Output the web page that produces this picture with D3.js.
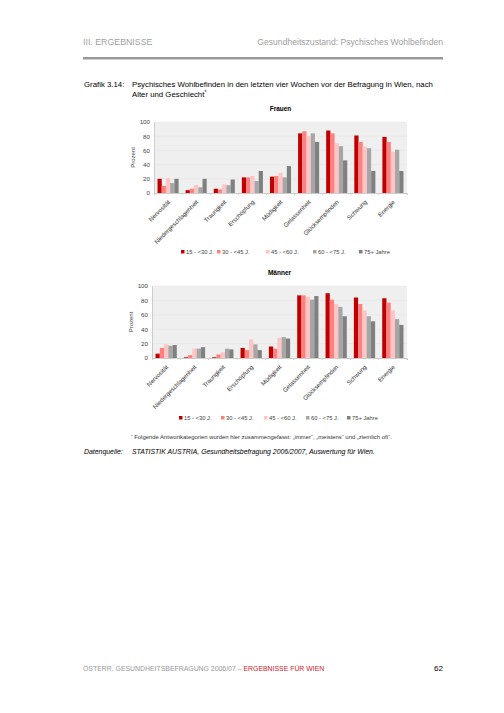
<!DOCTYPE html>
<html>
<head>
<meta charset="utf-8">
<script src="https://cdn.jsdelivr.net/npm/d3@7"></script>
<style>
  body { margin: 0; background: #fff; }
  svg { font-family: "Liberation Sans", Arial, sans-serif; }
</style>
</head>
<body>
<svg id="page" width="504" height="713"></svg>
<script>
var categories = ['Nervosität', 'Niedergeschlagenheit', 'Traurigkeit', 'Erschöpfung', 'Müdigkeit',
                  'Gelassenheit', 'Glücksempfinden', 'Schwung', 'Energie'];
var ageGroups = ['15 - <30 J.', '30 - <45 J.', '45 - <60 J.', '60 - <75 J.', '75+ Jahre'];
var ageColors = ['#c00000', '#ff8080', '#ffc4c4', '#a6a6a6', '#808080'];
var yTicks = [0, 20, 40, 60, 80, 100];

// one array per age group, values per category (Prozent)
var frauen = [
  [20, 4, 6, 22, 23, 84, 88, 81, 79],
  [10, 6, 5, 22, 24, 87, 84, 72, 72],
  [21, 11, 12, 24, 28, 80, 70, 65, 58],
  [14, 8, 11, 17, 22, 84, 66, 63, 61],
  [20, 20, 19, 31, 38, 72, 46, 31, 31]
];
var maenner = [
  [6, 1, 1, 14, 16, 87, 90, 84, 83],
  [14, 4, 5, 11, 13, 87, 81, 75, 77],
  [19, 13, 8, 26, 28, 85, 75, 66, 66],
  [17, 13, 13, 19, 29, 81, 71, 58, 54],
  [18, 15, 12, 11, 27, 86, 58, 51, 46]
];

var svg = d3.select('#page');

// page header
svg.append('text').attr('x', 83).attr('y', 45).attr('font-size', 8.8).attr('fill', '#a0a0a0')
  .text('III. ERGEBNISSE');
svg.append('text').attr('x', 443).attr('y', 45).attr('font-size', 8.6).attr('fill', '#a0a0a0')
  .attr('text-anchor', 'end').text('Gesundheitszustand: Psychisches Wohlbefinden');
svg.append('rect').attr('x', 83).attr('y', 57).attr('width', 360).attr('height', 2.5).attr('fill', '#999');

// figure title
svg.append('text').attr('x', 84).attr('y', 87).attr('font-size', 7.8).text('Grafik 3.14:');
svg.append('text').attr('x', 132).attr('y', 87).attr('font-size', 7.8)
  .text('Psychisches Wohlbefinden in den letzten vier Wochen vor der Befragung in Wien, nach');
var t2 = svg.append('text').attr('x', 132).attr('y', 97).attr('font-size', 7.8).text('Alter und Geschlecht');
t2.append('tspan').attr('dy', -3).attr('font-size', 5).text('*');

function drawChart(title, data, box) {
  var g = svg.append('g');
  var x = d3.scaleBand().domain(categories).range([box.left, box.right]).paddingInner(0.25).paddingOuter(0.125);
  var xs = d3.scaleBand().domain(d3.range(ageGroups.length)).range([0, x.bandwidth()]);
  var y = d3.scaleLinear().domain([0, 100]).range([box.bottom, box.top]);

  g.append('text').attr('x', (box.left + box.right) / 2).attr('y', box.top - 11)
    .attr('text-anchor', 'middle').attr('font-size', 6.5).attr('font-weight', 'bold').text(title);

  g.append('rect').attr('x', box.left).attr('y', box.top)
    .attr('width', box.right - box.left).attr('height', box.bottom - box.top).attr('fill', '#efefef');

  g.selectAll('line.grid').data(yTicks.slice(1)).enter().append('line')
    .attr('x1', box.left).attr('x2', box.right)
    .attr('y1', function (d) { return y(d); }).attr('y2', function (d) { return y(d); })
    .attr('stroke', '#e4e4e4').attr('stroke-width', 0.5);

  var series = g.selectAll('g.series').data(data).enter().append('g')
    .attr('fill', function (d, i) { return ageColors[i]; })
    .attr('transform', function (d, i) { return 'translate(' + xs(i) + ',0)'; });

  series.selectAll('rect').data(function (d) { return d; }).enter().append('rect')
    .attr('x', function (d, j) { return x(categories[j]); })
    .attr('y', function (d) { return y(d); })
    .attr('width', xs.bandwidth())
    .attr('height', function (d) { return y(0) - y(d); });

  var yAxis = g.append('g').attr('transform', 'translate(' + box.left + ',0)')
    .call(d3.axisLeft(y).tickValues(yTicks).tickSize(0).tickPadding(4));
  yAxis.select('.domain').attr('stroke', '#ccc');
  yAxis.selectAll('text').attr('font-size', 6.2).attr('fill', '#444');

  var xAxis = g.append('g').attr('transform', 'translate(0,' + box.bottom + ')')
    .call(d3.axisBottom(x).tickSize(2).tickPadding(2));
  xAxis.select('.domain').attr('stroke', '#ccc');
  xAxis.selectAll('line').attr('stroke', '#ccc')
    .attr('transform', 'translate(' + (x.step() / 2) + ',0)');
  xAxis.selectAll('text').attr('font-size', 6.1).attr('fill', '#333')
    .attr('text-anchor', 'end').attr('x', 0).attr('y', 0).attr('dy', '0.35em')
    .attr('transform', 'translate(1,8) rotate(-45)');

  g.append('text').attr('transform', 'translate(' + (box.left - 19) + ',' + ((box.top + box.bottom) / 2) + ') rotate(-90)')
    .attr('text-anchor', 'middle').attr('font-size', 6).attr('fill', '#444').text('Prozent');

  var legend = g.selectAll('g.legend').data(ageGroups).enter().append('g')
    .attr('transform', function (d, i) { return 'translate(' + box.legendX[i] + ',' + box.legendY + ')'; });
  legend.append('rect').attr('x', 0).attr('y', -4).attr('width', 3.5).attr('height', 3.5)
    .attr('fill', function (d, i) { return ageColors[i]; });
  legend.append('text').attr('x', 5).attr('y', 0).attr('font-size', 5.8).attr('fill', '#444')
    .text(function (d) { return d; });
}

drawChart('Frauen', frauen, {
  left: 154, right: 407, top: 122, bottom: 193,
  legendX: [181, 217, 266, 313, 359], legendY: 254
});
drawChart('Männer', maenner, {
  left: 152, right: 407, top: 286, bottom: 358,
  legendX: [179, 221, 264, 306, 347], legendY: 420
});

// footnote and source
var fn = svg.append('text').attr('x', 131).attr('y', 439).attr('font-size', 5.9).attr('fill', '#333');
fn.append('tspan').attr('dy', -1.5).attr('font-size', 4).text('*');
fn.append('tspan').attr('dy', 1.5).text('  Folgende Antwortkategorien wurden hier zusammengefasst: „immer“, „meistens“ und „ziemlich oft“.');
svg.append('text').attr('x', 84).attr('y', 454).attr('font-size', 6.9).attr('font-style', 'italic').text('Datenquelle:');
svg.append('text').attr('x', 132).attr('y', 454).attr('font-size', 6.9).attr('font-style', 'italic')
  .text('STATISTIK AUSTRIA, Gesundheitsbefragung 2006/2007, Auswertung für Wien.');

// page footer
var ft = svg.append('text').attr('x', 83).attr('y', 671).attr('font-size', 6.9);
ft.append('tspan').attr('fill', '#999').text('ÖSTERR. GESUNDHEITSBEFRAGUNG 2006/07 – ');
ft.append('tspan').attr('fill', '#d0202a').text('ERGEBNISSE FÜR WIEN');
svg.append('text').attr('x', 443).attr('y', 671).attr('font-size', 8).attr('text-anchor', 'end').text('62');
</script>
</body>
</html>
